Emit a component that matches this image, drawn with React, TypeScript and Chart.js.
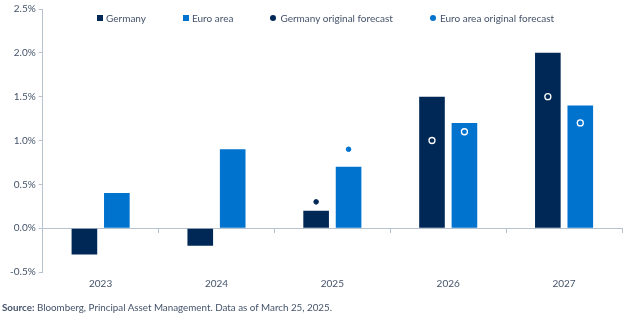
import React, { useEffect, useRef } from "react";
import { Chart, registerables } from "chart.js";

Chart.register(...registerables);

const categories = ["2023", "2024", "2025", "2026", "2027"];
const germany = [-0.3, -0.2, 0.2, 1.5, 2.0];
const euroArea = [0.4, 0.9, 0.7, 1.2, 1.4];
const germanyForecast = [null, null, 0.3, 1.0, 1.5];
const euroForecast = [null, null, 0.9, 1.1, 1.2];
const yTicks = [-0.5, 0, 0.5, 1.0, 1.5, 2.0, 2.5];

const NAVY = "#002856";
const BLUE = "#0073cf";
const AXIS = "#b7c2cf";
const TEXT = "#44536a";
const FONT = "Lato, 'Open Sans', sans-serif";

const legendItems = [
  { label: "Germany", color: NAVY, shape: "rect" },
  { label: "Euro area", color: BLUE, shape: "rect" },
  { label: "Germany original forecast", color: NAVY, shape: "circle" },
  { label: "Euro area original forecast", color: BLUE, shape: "circle" },
];

// Place forecast points at the centre of the matching bar of the same series
const alignPoints = {
  id: "alignPoints",
  afterDatasetsUpdate(chart: any) {
    const pairs = [
      [2, 0],
      [3, 1],
    ];
    pairs.forEach(([p, b]) => {
      const pm = chart.getDatasetMeta(p);
      const bm = chart.getDatasetMeta(b);
      pm.data.forEach((pt: any, i: number) => {
        if (bm.data[i]) pt.x = bm.data[i].x;
      });
    });
  },
};

function pointStyle(barValues: number[], color: string) {
  const inside = (ctx: any) => ctx.raw != null && ctx.raw < barValues[ctx.dataIndex];
  return {
    pointBackgroundColor: (ctx: any) => (inside(ctx) ? "rgba(0,0,0,0)" : color),
    pointBorderColor: (ctx: any) => (inside(ctx) ? "#ffffff" : color),
    pointRadius: (ctx: any) => (inside(ctx) ? 3 : 2.3),
    pointBorderWidth: (ctx: any) => (inside(ctx) ? 1.3 : 1),
  };
}

export default function App() {
  const ref = useRef<HTMLCanvasElement>(null);
  useEffect(() => {
    if (!ref.current) return;
    const chart = new Chart(ref.current, {
      type: "bar",
      data: {
        labels: categories,
        datasets: [
          { type: "bar", label: "Germany", data: germany, backgroundColor: NAVY, order: 2, categoryPercentage: 0.56, barPercentage: 0.79 },
          { type: "bar", label: "Euro area", data: euroArea, backgroundColor: BLUE, order: 2, categoryPercentage: 0.56, barPercentage: 0.79 },
          { type: "line", label: "Germany original forecast", data: germanyForecast, showLine: false, order: 1, ...pointStyle(germany, NAVY) } as any,
          { type: "line", label: "Euro area original forecast", data: euroForecast, showLine: false, order: 1, ...pointStyle(euroArea, BLUE) } as any,
        ],
      },
      options: {
        responsive: false,
        animation: false,
        layout: { padding: { left: 7, top: 9, right: 8, bottom: 6 } },
        plugins: { legend: { display: false }, tooltip: { enabled: false } },
        scales: {
          x: {
            grid: { display: false, drawTicks: false },
            border: { display: false },
            ticks: { color: TEXT, padding: 6, font: { family: FONT, size: 10 } },
          },
          x2: {
            axis: "x",
            type: "category",
            labels: categories,
            position: { y: 0 } as any,
            grid: { offset: true, drawOnChartArea: false, tickLength: 4, color: AXIS },
            border: { display: true, color: AXIS, width: 1 },
            ticks: { display: false },
          } as any,
          y: {
            min: -0.5,
            max: 2.5,
            afterBuildTicks: (s: any) => {
              s.ticks = yTicks.map((v) => ({ value: v }));
            },
            grid: { drawOnChartArea: false, tickLength: 4, color: AXIS },
            border: { display: true, color: AXIS },
            ticks: {
              color: TEXT,
              padding: 3,
              font: { family: FONT, size: 10 },
              callback: (v: any) => Number(v).toFixed(1) + "%",
            },
          },
        },
      },
      plugins: [alignPoints],
    });
    return () => chart.destroy();
  }, []);

  return (
    <div style={{ position: "fixed", left: 0, top: 0, width: 630, height: 322, background: "#fff", fontFamily: FONT }}>
      <canvas ref={ref} width={630} height={302} style={{ display: "block" }} />
      <div
        style={{
          position: "absolute",
          left: 97,
          top: 12,
          display: "flex",
          gap: 37,
          fontSize: 10,
          lineHeight: "12px",
          color: TEXT,
        }}
      >
        {legendItems.map((it) => (
          <div key={it.label} style={{ display: "flex", alignItems: "center", gap: it.shape === "rect" ? 3 : 4 }}>
            <span
              style={{
                width: 6,
                height: 6,
                background: it.color,
                borderRadius: it.shape === "circle" ? "50%" : 0,
                display: "inline-block",
              }}
            />
            <span>{it.label}</span>
          </div>
        ))}
      </div>
      <div style={{ position: "absolute", left: 2, top: 301, fontSize: 9.8, lineHeight: "12px", color: TEXT }}>
        <b>Source:</b> Bloomberg, Principal Asset Management. Data as of March 25, 2025.
      </div>
    </div>
  );
}
